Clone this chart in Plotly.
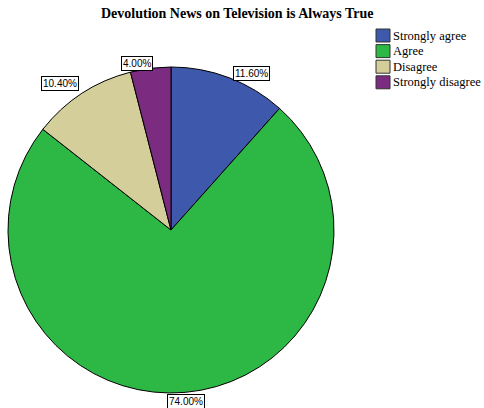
import math
import plotly.graph_objects as go

categories = ["Strongly agree", "Agree", "Disagree", "Strongly disagree"]
values = [11.6, 74.0, 10.4, 4.0]
colors = ["#3E58AC", "#2DB846", "#D4CF9A", "#7B2C80"]
title = "Devolution News on Television is Always True"

W, H = 484, 408
cx, cy, R = 171, 230, 163

def px(x):
    return x / W

def py(y):
    return 1 - y / H

fig = go.Figure(go.Pie(
    labels=categories, values=values, sort=False, direction="clockwise",
    rotation=0, textinfo="none", hoverinfo="label+percent",
    marker=dict(colors=colors, line=dict(color="#000000", width=1)),
    domain=dict(x=[px(cx - R), px(cx + R)], y=[py(cy + R), py(cy - R)]),
    showlegend=False,
))

annotations = []
total = sum(values)
cum = 0.0
for cat, v in zip(categories, values):
    mid = (cum + v / 2) / total * 2 * math.pi
    cum += v
    s, c = math.sin(mid), math.cos(mid)
    r = R * 1.075
    x = cx + r * s
    y = min(cy - r * c, H - 6.5)
    xa = "left" if s > 0.1 else ("right" if s < -0.1 else "center")
    ya = "top" if c > 0.85 else "middle"
    if xa == "right":
        x += 4
    annotations.append(dict(
        x=px(x), y=py(y), xref="paper", yref="paper", text=f"{v:.2f}%",
        showarrow=False, xanchor=xa, yanchor=ya,
        font=dict(family="Liberation Sans, Arial", size=10, color="#000"),
        bgcolor="#ffffff", bordercolor="#000000", borderwidth=1, borderpad=1,
    ))

shapes = []
for i, (cat, col) in enumerate(zip(categories, colors)):
    yc = 35.5 + i * 15.6
    shapes.append(dict(type="rect", xref="paper", yref="paper",
                       x0=px(376), x1=px(390), y0=py(yc - 6.5), y1=py(yc + 6.5),
                       fillcolor=col, line=dict(color="#333333", width=1)))
    annotations.append(dict(
        x=px(391), y=py(yc), xref="paper", yref="paper", text=cat,
        showarrow=False, xanchor="left", yanchor="middle",
        font=dict(family="Liberation Serif, Times New Roman", size=12.5, color="#000"),
    ))

annotations.append(dict(
    x=px(237), y=py(14), xref="paper", yref="paper", text=f"<b>{title}</b>",
    showarrow=False, xanchor="center", yanchor="middle",
    font=dict(family="Liberation Serif, Times New Roman", size=14, color="#000"),
))

fig.update_layout(
    width=W, height=H, margin=dict(l=0, r=0, t=0, b=0),
    paper_bgcolor="#ffffff", plot_bgcolor="#ffffff",
    annotations=annotations, shapes=shapes, showlegend=False,
)

fig.write_html("out.html")
